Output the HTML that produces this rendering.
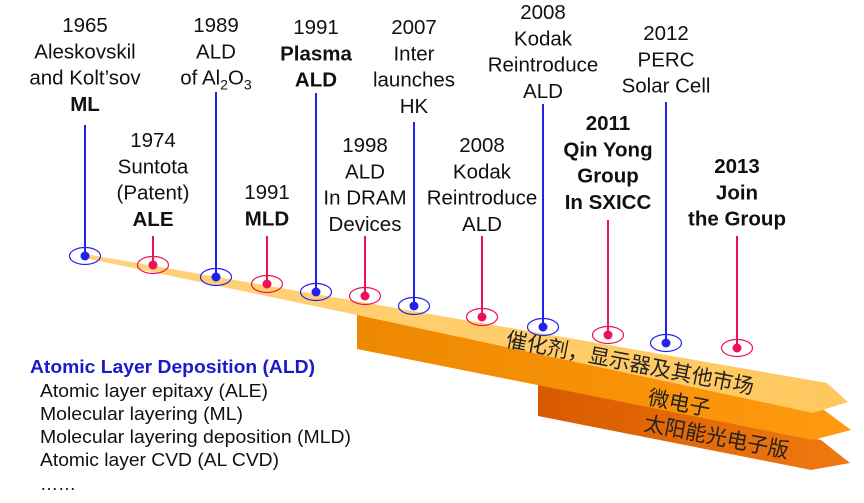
<!DOCTYPE html>
<html><head><meta charset="utf-8"><style>
html,body{margin:0;padding:0;background:#fff;}
svg{display:block;font-family:"Liberation Sans",Arial,sans-serif;}
</style></head><body>
<svg id="chart" width="864" height="503" viewBox="0 0 864 503" xmlns="http://www.w3.org/2000/svg">
<defs>
<linearGradient id="gY" x1="0" y1="0" x2="1" y2="0"><stop offset="0" stop-color="#ffd27a"/><stop offset="1" stop-color="#ffc85e"/></linearGradient>
<linearGradient id="gO" x1="0" y1="0" x2="1" y2="0"><stop offset="0" stop-color="#ee8800"/><stop offset="1" stop-color="#ff9a10"/></linearGradient>
<linearGradient id="gD" x1="0" y1="0" x2="1" y2="0"><stop offset="0" stop-color="#d85a00"/><stop offset="1" stop-color="#f07a10"/></linearGradient>
</defs>
<polygon points="538,380 821,440 850,463 811,470 538,416" fill="url(#gD)"/>
<polygon points="357,310 824,410 851,430 813,440 357,349" fill="url(#gO)"/>
<polygon points="85,254 827,383 848,402 813,413 357,315 85,258" fill="url(#gY)"/>
<text transform="translate(505,346) rotate(11)" font-size="21" font-family="'Liberation Sans','Noto Sans CJK SC',sans-serif" fill="#222">催化剂，显示器及其他市场</text>
<text transform="translate(647,404) rotate(11)" font-size="21" font-family="'Liberation Sans','Noto Sans CJK SC',sans-serif" fill="#222">微电子</text>
<text transform="translate(643,430) rotate(11)" font-size="21" font-family="'Liberation Sans','Noto Sans CJK SC',sans-serif" fill="#222">太阳能光电子版</text>
<g id="events"></g>
<g font-size="18" fill="#111">
<text x="30" y="373" font-weight="bold" fill="#1a1acc" textLength="285" lengthAdjust="spacingAndGlyphs">Atomic Layer Deposition (ALD)</text>
<text x="40" y="397" textLength="228" lengthAdjust="spacingAndGlyphs">Atomic layer epitaxy (ALE)</text>
<text x="40" y="420" textLength="203" lengthAdjust="spacingAndGlyphs">Molecular layering (ML)</text>
<text x="40" y="443" textLength="311" lengthAdjust="spacingAndGlyphs">Molecular layering deposition (MLD)</text>
<text x="40" y="466" textLength="239" lengthAdjust="spacingAndGlyphs">Atomic layer CVD (AL CVD)</text>
<text x="40" y="490">……</text>
</g>
</svg>
<script>
const eventX = [85,153,216,267,316,365,414,482,543,608,666,737];
const eventY = [256,265,277,284,292,296,306,317,327,335,343,348];
const lineTop = [125,236,92,236,93,236,122,236,104,220,102,236];
const eventColor = ['b','r','b','r','b','r','b','r','b','r','b','r'];
const labelBase = [32,147,32,199,34,152,34,152,19,130,40,173];
const labels = [
 [["1965",0],["Aleskovskil",0],["and Kolt\u2019sov",0],["ML",1]],
 [["1974",0],["Suntota",0],["(Patent)",0],["ALE",1]],
 [["1989",0],["ALD",0],["ALO",2]],
 [["1991",0],["MLD",1]],
 [["1991",0],["Plasma",1],["ALD",1]],
 [["1998",0],["ALD",0],["In DRAM",0],["Devices",0]],
 [["2007",0],["Inter",0],["launches",0],["HK",0]],
 [["2008",0],["Kodak",0],["Reintroduce",0],["ALD",0]],
 [["2008",0],["Kodak",0],["Reintroduce",0],["ALD",0]],
 [["2011",1],["Qin Yong",1],["Group",1],["In SXICC",1]],
 [["2012",0],["PERC",0],["Solar Cell",0]],
 [["2013",1],["Join",1],["the Group",1]]
];
const NS='http://www.w3.org/2000/svg';
const g=document.getElementById('events');
for(let i=0;i<eventX.length;i++){
  const x=eventX[i], y=eventY[i];
  const col = eventColor[i]==='b' ? '#2222ee' : '#ee1155';
  const ln=document.createElementNS(NS,'line');
  
  
  ln.setAttribute('x1',x);ln.setAttribute('x2',x);ln.setAttribute('y1',lineTop[i]);ln.setAttribute('y2',y);
  ln.setAttribute('stroke',col);ln.setAttribute('stroke-width','2');
  g.appendChild(ln);
  const ring=document.createElementNS(NS,'ellipse');
  
  
  ring.setAttribute('cx',x);ring.setAttribute('cy',y);ring.setAttribute('rx',15.5);ring.setAttribute('ry',8.5);
  ring.setAttribute('fill','none');ring.setAttribute('stroke',col);ring.setAttribute('stroke-width','1.2');
  g.appendChild(ring);
  const dot=document.createElementNS(NS,'circle');
  
  
  dot.setAttribute('cx',x);dot.setAttribute('cy',y);dot.setAttribute('r',4.5);dot.setAttribute('fill',col);
  g.appendChild(dot);
  labels[i].forEach((ln2,k)=>{
    const t=document.createElementNS(NS,'text');
    
    
    t.setAttribute('x',x);t.setAttribute('y',labelBase[i]+k*26.3);
    t.setAttribute('text-anchor','middle');t.setAttribute('font-size','20.5');t.setAttribute('fill','#111');
    if(ln2[1]===1) t.setAttribute('font-weight','bold');
    if(ln2[1]===2){
      t.innerHTML='of Al<tspan font-size="14" dy="5">2</tspan><tspan dy="-5">O</tspan><tspan font-size="14" dy="5">3</tspan>';
    } else t.textContent=ln2[0];
    g.appendChild(t);
  });
}
</script>
</body></html>
